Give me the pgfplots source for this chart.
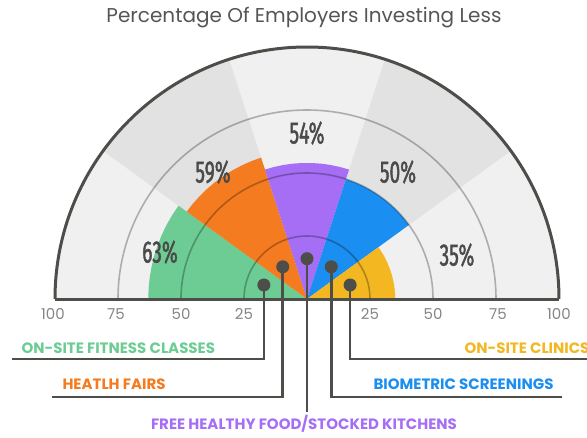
\documentclass[border=0pt]{standalone}
\usepackage{pgfplots}
\pgfplotsset{compat=1.18}
\usepgfplotslibrary{polar}
\usetikzlibrary{calc}
\usepackage{fontspec}
\setmainfont{Poppins}
\newfontfamily\condfont[FakeStretch=0.62, FakeBold=1.3]{Fira Sans}
\definecolor{cgreen}{HTML}{6DCC94}
\definecolor{corange}{HTML}{F47B20}
\definecolor{cpurple}{HTML}{A56EF4}
\definecolor{cblue}{HTML}{1B8EF2}
\definecolor{cyellow}{HTML}{F3B821}
\definecolor{bglight}{HTML}{F0F0F0}
\definecolor{bgdark}{HTML}{E2E2E2}
\definecolor{axgray}{HTML}{4D4D49}
\definecolor{txtgray}{HTML}{4A4A4A}
\definecolor{ticgray}{HTML}{858585}
\definecolor{titgray}{HTML}{555555}
\begin{document}
\begin{tikzpicture}
\begin{polaraxis}[
  name=ax,
  xmin=0, xmax=180, ymin=0, ymax=100,
  scale only axis, width=504pt, height=504pt,
  xtick=\empty, ytick={25,50,75}, yticklabels={},
  ymajorgrids, axis on top,
  major grid style={black, opacity=0.28, line width=1.6pt},
  axis line style={draw=axgray, line width=3pt},
  axis background/.style={fill=bglight},
  major tick length=0pt,
  clip=false,
]
% darker background sectors
\addplot[draw=none, fill=bgdark] coordinates {(0,0) (108,100) (112,100) (116,100) (120,100) (124,100) (128,100) (132,100) (136,100) (140,100) (144,100)} -- cycle;
\addplot[draw=none, fill=bgdark] coordinates {(0,0) (36,100) (40,100) (44,100) (48,100) (52,100) (56,100) (60,100) (64,100) (68,100) (72,100)} -- cycle;
% data wedges
\addplot[draw=none, fill=cgreen] coordinates {(0,0) (144,63) (148,63) (152,63) (156,63) (160,63) (164,63) (168,63) (172,63) (176,63) (180,63)} -- cycle;
\addplot[draw=none, fill=corange] coordinates {(0,0) (108,59) (112,59) (116,59) (120,59) (124,59) (128,59) (132,59) (136,59) (140,59) (144,59)} -- cycle;
\addplot[draw=none, fill=cpurple] coordinates {(0,0) (72,54) (76,54) (80,54) (84,54) (88,54) (92,54) (96,54) (100,54) (104,54) (108,54)} -- cycle;
\addplot[draw=none, fill=cblue] coordinates {(0,0) (36,50) (40,50) (44,50) (48,50) (52,50) (56,50) (60,50) (64,50) (68,50) (72,50)} -- cycle;
\addplot[draw=none, fill=cyellow] coordinates {(0,0) (0,35) (4,35) (8,35) (12,35) (16,35) (20,35) (24,35) (28,35) (32,35) (36,35)} -- cycle;
\coordinate (c) at (axis cs:0,0);
\coordinate (d1) at (axis cs:162,18);
\coordinate (d2) at (axis cs:127,16);
\coordinate (d3) at (axis cs:90,16);
\coordinate (d4) at (axis cs:53,16);
\coordinate (d5) at (axis cs:18,18);
\end{polaraxis}
% leader lines
\begin{scope}[axgray, line width=2.7pt]
\draw (d1) -- (d1 |- {$(c)+(0,-60pt)$}) -- ($(c)+(-295pt,-60pt)$);
\draw (d2) -- (d2 |- {$(c)+(0,-98pt)$}) -- ($(c)+(-255pt,-98pt)$);
\draw (d3) -- (d3 |- {$(c)+(0,-113pt)$});
\draw (d4) -- (d4 |- {$(c)+(0,-98pt)$}) -- ($(c)+(255pt,-98pt)$);
\draw (d5) -- (d5 |- {$(c)+(0,-60pt)$}) -- ($(c)+(290pt,-60pt)$);
\fill (d1) circle (6.5pt);
\fill (d2) circle (6.5pt);
\fill (d3) circle (6.5pt);
\fill (d4) circle (6.5pt);
\fill (d5) circle (6.5pt);
\end{scope}
% tick labels
\begin{scope}[font=\fontsize{15}{16}\selectfont, text=ticgray]
\node at ($(c)+(-254pt,-15pt)$) {100};
\node at ($(c)+(-191pt,-15pt)$) {75};
\node at ($(c)+(-126pt,-15pt)$) {50};
\node at ($(c)+(-63pt,-15pt)$) {25};
\node at ($(c)+(63pt,-15pt)$) {25};
\node at ($(c)+(126pt,-15pt)$) {50};
\node at ($(c)+(191pt,-15pt)$) {75};
\node at ($(c)+(252pt,-15pt)$) {100};
\end{scope}
% percentages
\begin{scope}[font=\condfont\fontsize{31}{34}\selectfont, text=txtgray]
\node at ($(c)+(-147pt,47pt)$) {63\%};
\node at ($(c)+(-94pt,127pt)$) {59\%};
\node at ($(c)+(0pt,166pt)$) {54\%};
\node at ($(c)+(91pt,127pt)$) {50\%};
\node at ($(c)+(150pt,44pt)$) {35\%};
\end{scope}
% category labels
\begin{scope}[font=\bfseries\fontsize{15}{16}\selectfont]
\node[anchor=west, text=cgreen] at ($(c)+(-289pt,-49pt)$) {ON-SITE FITNESS CLASSES};
\node[anchor=west, text=corange] at ($(c)+(-248pt,-85pt)$) {HEATLH FAIRS};
\node[anchor=west, text=cyellow] at ($(c)+(154pt,-49pt)$) {ON-SITE CLINICS};
\node[anchor=west, text=cblue] at ($(c)+(63pt,-85pt)$) {BIOMETRIC SCREENINGS};
\node[text=cpurple] at ($(c)+(-3pt,-125pt)$) {FREE HEALTHY FOOD/STOCKED KITCHENS};
\end{scope}
\node[text=titgray, font=\fontsize{20}{22}\selectfont] at ($(c)+(-3pt,281pt)$) {Percentage Of Employers Investing Less};
\pgfresetboundingbox
\path[use as bounding box] ($(c)+(-307pt,-138pt)$) rectangle ($(c)+(280pt,299pt)$);
\end{tikzpicture}
\end{document}
